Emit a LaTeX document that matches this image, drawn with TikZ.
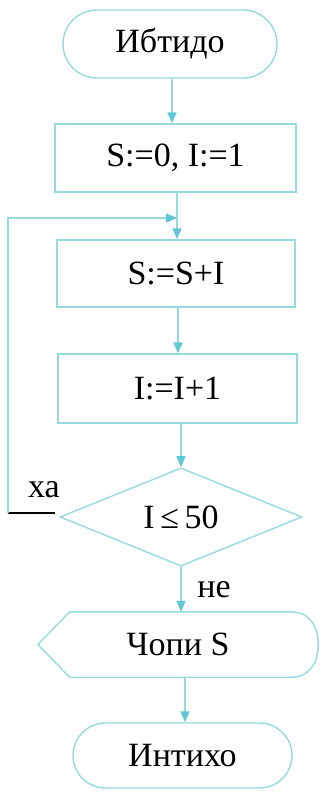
\documentclass[tikz,border=0pt]{standalone}
\usepackage{fontspec}
\setmainfont{Liberation Serif}
\usetikzlibrary{shapes.misc,shapes.geometric,arrows.meta,calc}
\definecolor{fl}{RGB}{150,218,222}
\definecolor{fa}{RGB}{95,200,212}
\begin{document}
\begin{tikzpicture}[x=1pt,y=-1pt,
  every node/.style={font=\fontsize{34}{40}\selectfont},
  term/.style={rounded rectangle,draw=fl,line width=1.4pt,inner sep=0pt},
  proc/.style={rectangle,draw=fl,line width=1.4pt,inner sep=0pt},
  dec/.style={diamond,draw=fl,line width=1.4pt,inner sep=0pt},
  conn/.style={draw=fl,line width=1.4pt,-{Triangle[length=11pt,width=9pt,fill=fa,color=fa]}},
  plain/.style={draw=fl,line width=1.4pt}]
\useasboundingbox (0,0) rectangle (325,792);
\node[term,minimum width=214pt,minimum height=68pt] (start) at (170,44) {Ибтидо};
\node[proc,minimum width=241pt,minimum height=68pt] (b1) at (175.5,158) {S:=0, I:=1};
\node[proc,minimum width=238pt,minimum height=67pt] (b2) at (176,273.5) {S:=S+I};
\node[proc,minimum width=239pt,minimum height=69pt] (b3) at (177.5,388.5) {I:=I+1};
\node[dec,minimum width=242pt,minimum height=90pt] (d) at (181,517) {I\,≤\,50};
\node[minimum width=280pt,minimum height=65pt,inner sep=0pt] (out) at (178,644.5) {Чопи S};
\node[term,minimum width=219pt,minimum height=65pt] (end) at (182.5,755.5) {Интихо};
% display shape
\draw[plain] ($(out.north west)+(32,0)$) -- ($(out.north east)+(-28,0)$)
  .. controls ($(out.north east)+(-8,0)$) and ($(out.east)+(0,-18)$) .. (out.east)
  .. controls ($(out.east)+(0,18)$) and ($(out.south east)+(-8,0)$) .. ($(out.south east)+(-28,0)$)
  -- ($(out.south west)+(32,0)$) -- (out.west) -- cycle;
% connectors
\draw[conn] (start.south -| 172,0) -- (b1.north -| 172,0);
\coordinate (j) at (177,218);
\draw[conn] (b1.south -| j) -- (b2.north -| j);
\draw[conn] (b2.south -| 178,0) -- (b3.north -| 178,0);
\draw[conn] (b3.south -| d.north) -- (d.north);
\draw[conn] (d.south) -- (out.north -| d.south);
\draw[conn] (out.south -| 185,0) -- (end.north -| 185,0);
% loop
\coordinate (lc) at (8,513);
\coordinate (lt) at (8,218);
\draw[black,line width=1.2pt] (lc) -- (55,513);
\draw[conn] (lc) -- (lt) -- (j);
\node (yes) at (44,490) {ха};
\node (no) at (214,590) {не};
\end{tikzpicture}
\end{document}
